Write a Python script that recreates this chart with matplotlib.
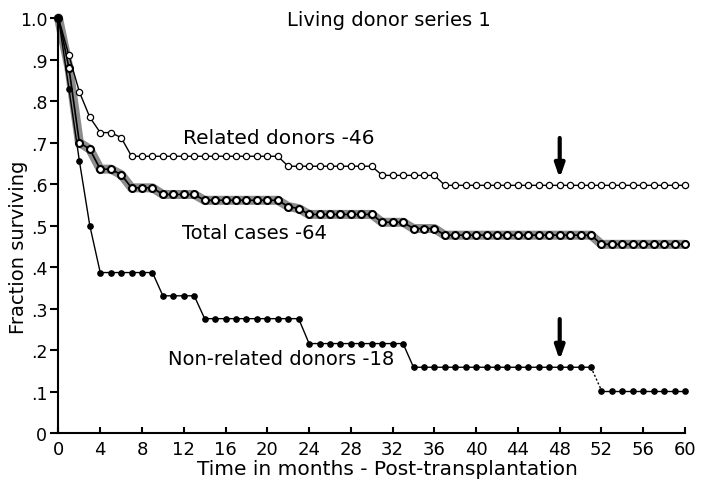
import matplotlib
matplotlib.use('Agg')
import matplotlib.pyplot as plt
import numpy as np

plt.rcParams['font.family'] = ['DejaVu Sans']

# months after transplantation, one marker per month
months = list(range(61))

# fraction surviving, month 0..60
related = [1.0, 0.91, 0.822, 0.761, 0.724, 0.724, 0.712, 0.667, 0.667, 0.667,
           0.667, 0.667, 0.667, 0.667, 0.667, 0.667, 0.667, 0.667, 0.667, 0.667,
           0.667, 0.667, 0.643, 0.643, 0.643, 0.643, 0.643, 0.643, 0.643, 0.643,
           0.643, 0.621, 0.621, 0.621, 0.621, 0.621, 0.621, 0.597, 0.597, 0.597,
           0.597, 0.597, 0.597, 0.597, 0.597, 0.597, 0.597, 0.597, 0.597, 0.597,
           0.597, 0.597, 0.597, 0.597, 0.597, 0.597, 0.597, 0.597, 0.597, 0.597,
           0.597]
total = [1.0, 0.88, 0.70, 0.684, 0.636, 0.636, 0.623, 0.591, 0.591, 0.591,
         0.575, 0.575, 0.575, 0.575, 0.561, 0.561, 0.561, 0.561, 0.561, 0.561,
         0.561, 0.561, 0.546, 0.541, 0.527, 0.527, 0.527, 0.527, 0.527, 0.527,
         0.527, 0.508, 0.508, 0.508, 0.493, 0.493, 0.493, 0.477, 0.477, 0.477,
         0.477, 0.477, 0.477, 0.477, 0.477, 0.477, 0.477, 0.477, 0.477, 0.477,
         0.477, 0.477, 0.455, 0.455, 0.455, 0.455, 0.455, 0.455, 0.455, 0.455,
         0.455]
nonrelated = [1.0, 0.83, 0.656, 0.50, 0.387, 0.387, 0.387, 0.387, 0.387, 0.387,
              0.331, 0.331, 0.331, 0.331, 0.276, 0.276, 0.276, 0.276, 0.276, 0.276,
              0.276, 0.276, 0.276, 0.276, 0.216, 0.216, 0.216, 0.216, 0.216, 0.216,
              0.216, 0.216, 0.216, 0.216, 0.159, 0.159, 0.159, 0.159, 0.159, 0.159,
              0.159, 0.159, 0.159, 0.159, 0.159, 0.159, 0.159, 0.159, 0.159, 0.159,
              0.159, 0.159, 0.103, 0.103, 0.103, 0.103, 0.103, 0.103, 0.103, 0.103,
              0.103]

yticks = [0, .1, .2, .3, .4, .5, .6, .7, .8, .9, 1.0]
ytick_labels = ['0', '.1', '.2', '.3', '.4', '.5', '.6', '.7', '.8', '.9', '1.0']
xticks = list(range(0, 61, 4))

fig = plt.figure(figsize=(7.02, 4.89), dpi=100)
ax = fig.add_axes([0.0833, 0.1119, 0.8925, 0.8493])

# total cases: shaded band + thick open circles
ax.plot(months, total, color='#8c8c8c', lw=6.5, solid_capstyle='round', zorder=2, clip_on=False)
ax.plot(months, total, color='black', lw=1.2, marker='o', ms=5, mfc='white', mec='black',
        mew=1.5, zorder=3, clip_on=False)

# related donors: thin open circles
ax.plot(months, related, color='black', lw=1.0, marker='o', ms=4.5, mfc='white', mec='black',
        mew=0.9, zorder=4, clip_on=False)

# non-related donors: filled dots, dotted drop between month 51 and 52
ax.plot(months[:52], nonrelated[:52], color='black', lw=1.0, marker='o', ms=3.8,
        zorder=4, clip_on=False)
ax.plot(months[51:53], nonrelated[51:53], color='black', lw=1.0, ls=(0, (1.5, 1.5)), zorder=4)
ax.plot(months[52:], nonrelated[52:], color='black', lw=1.0, marker='o', ms=3.8,
        zorder=4, clip_on=False)

# arrows at 48 months
arrow = dict(arrowstyle='-|>,head_length=0.8,head_width=0.28', lw=3, color='black',
             shrinkA=0, shrinkB=0, mutation_scale=10)
ax.annotate('', xy=(48, 0.614), xytext=(48, 0.711), arrowprops=arrow)
ax.annotate('', xy=(48, 0.176), xytext=(48, 0.275), arrowprops=arrow)

ax.text(31.6, 0.996, 'Living donor series 1', fontsize=14, ha='center', va='center')
ax.text(11.97, 0.712, 'Related donors -46', fontsize=14.5, ha='left', va='center')
ax.text(11.8, 0.483, 'Total cases -64', fontsize=14, ha='left', va='center')
ax.text(10.5, 0.18, 'Non-related donors -18', fontsize=14, ha='left', va='center')

ax.set_xlim(0, 60)
ax.set_ylim(0, 1.0)
ax.spines['right'].set_color('none')
ax.spines['top'].set_color('none')
ax.spines['left'].set_linewidth(1.5)
ax.spines['bottom'].set_linewidth(1.5)

ax.set_yticks(yticks)
ax.set_yticklabels(ytick_labels, fontsize=12.5)
ax.set_xticks(xticks)
ax.set_xticklabels([str(t) for t in xticks], fontsize=13)
ax.tick_params(axis='y', direction='out', length=6, width=1.5, pad=2)
ax.tick_params(axis='x', direction='in', length=4, width=1.5, pad=5)

fig.text(19 / 702, 0.495, 'Fraction surviving', fontsize=14, rotation=90,
         ha='center', va='center')
fig.text(387 / 702, 0.039, 'Time in months - Post-transplantation', fontsize=14.5,
         ha='center', va='center')

fig.savefig('out.png', dpi=100)
